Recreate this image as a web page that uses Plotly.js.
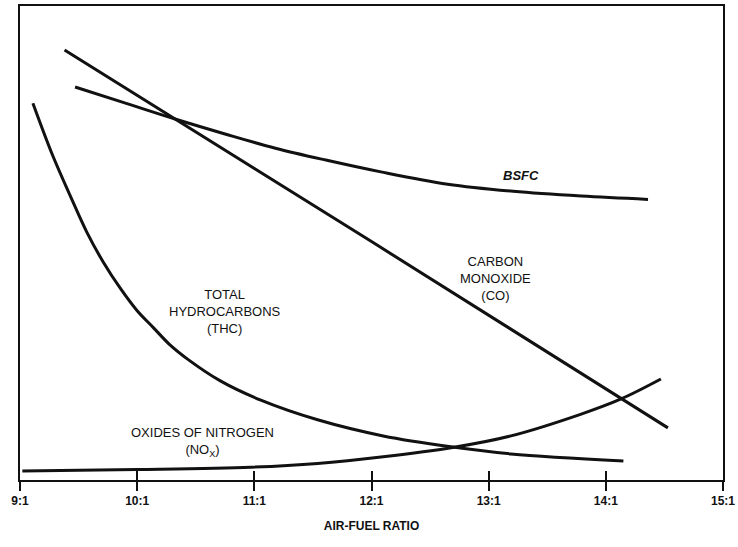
<!DOCTYPE html>
<html><head><meta charset="utf-8">
<script src="https://cdn.plot.ly/plotly-3.0.1.min.js"></script>
<style>html,body{margin:0;padding:0;background:#fff;}</style>
</head><body>
<div id="chart" style="width:738px;height:547px;"></div>
<script>
// Air-fuel ratio (x) vs relative level (y, arbitrary units 0-100)
const coX   = [9.38, 12.0, 14.53];
const coY   = [90.7, 50.3, 11.0];
const bsfcX = [9.47, 9.90, 10.33, 10.75, 11.18, 11.61, 12.08, 12.65, 13.21, 13.79, 14.36];
const bsfcY = [82.9, 79.5, 76.1, 73.0, 70.0, 67.5, 65.0, 62.4, 60.9, 59.9, 59.2];
const thcX  = [9.11, 9.28, 9.43, 9.57, 9.71, 9.86, 10.0, 10.14, 10.28, 10.43, 10.71, 11.05, 11.54, 12.10, 12.68, 13.19, 14.15];
const thcY  = [79.5, 68.4, 59.9, 52.3, 46.0, 40.3, 35.7, 32.1, 28.5, 25.5, 20.9, 16.9, 12.7, 9.3, 7.0, 5.5, 4.0];
const noxX  = [9.02, 10.0, 10.97, 11.54, 12.10, 12.68, 13.19, 13.79, 14.13, 14.47];
const noxY  = [1.9, 2.2, 2.7, 3.5, 4.9, 6.8, 9.3, 13.9, 17.1, 21.3];
const tickVals = [9, 10, 11, 12, 13, 14, 15];
const tickText = ['9:1', '10:1', '11:1', '12:1', '13:1', '14:1', '15:1'];

const lineStyle = {color: '#111', width: 3, shape: 'spline', smoothing: 1};
const traces = [
  {x: coX, y: coY, mode: 'lines', line: lineStyle, name: 'CO'},
  {x: bsfcX, y: bsfcY, mode: 'lines', line: lineStyle, name: 'BSFC'},
  {x: thcX, y: thcY, mode: 'lines', line: lineStyle, name: 'THC'},
  {x: noxX, y: noxY, mode: 'lines', line: lineStyle, name: 'NOx'},
  {x: [9, 15], y: [null, null], xaxis: 'x2', mode: 'lines', showlegend: false, hoverinfo: 'skip'}
];

const fontFam = '"Liberation Sans", Arial, sans-serif';
const ann = (x, y, text, extra) => Object.assign({
  x: x, y: y, xref: 'x', yref: 'y', text: text, showarrow: false,
  font: {family: fontFam, size: 13, color: '#111'}, align: 'center'
}, extra || {});

const layout = {
  width: 738, height: 547,
  margin: {l: 20, r: 15, t: 6, b: 67},
  paper_bgcolor: '#fff', plot_bgcolor: '#fff',
  showlegend: false,
  xaxis: {
    range: [9, 15], tickvals: tickVals, ticktext: tickText,
    showline: true, linecolor: '#111', linewidth: 2, mirror: true,
    ticks: 'outside', ticklen: 9, tickwidth: 2, tickcolor: '#111',
    showgrid: false, zeroline: false,
    tickfont: {family: fontFam, size: 12, color: '#111', weight: 'bold'},
    title: {text: 'AIR-FUEL RATIO', font: {family: fontFam, size: 12, color: '#111', weight: 'bold'}, standoff: 14}
  },
  xaxis2: {
    range: [9, 15], overlaying: 'x', anchor: 'y', side: 'bottom',
    tickvals: tickVals, showticklabels: false,
    ticks: 'inside', ticklen: 9, tickwidth: 2, tickcolor: '#111',
    showline: false, showgrid: false, zeroline: false
  },
  yaxis: {
    range: [0, 100], showline: true, linecolor: '#111', linewidth: 2, mirror: true,
    ticks: '', showticklabels: false, showgrid: false, zeroline: false
  },
  annotations: [
    ann(13.28, 64.2, '<b><i>BSFC</i></b>'),
    ann(13.06, 42.6, 'CARBON<br>MONOXIDE<br>(CO)'),
    ann(10.75, 35.5, 'TOTAL<br>HYDROCARBONS<br>(THC)'),
    ann(10.56, 8.0, 'OXIDES OF NITROGEN<br>(NO<sub>X</sub>)')
  ]
};

Plotly.newPlot('chart', traces, layout, {displayModeBar: false, staticPlot: true});
</script>
</body></html>
